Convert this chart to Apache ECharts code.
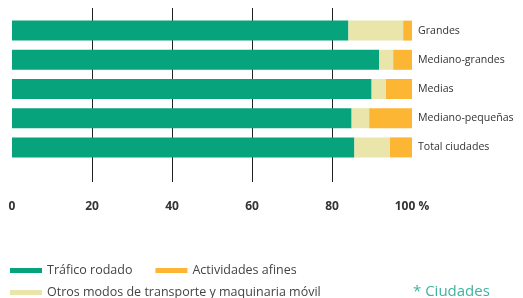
<!DOCTYPE html>
<html>
<head>
<meta charset="utf-8">
<script src="https://cdn.jsdelivr.net/npm/echarts@6/dist/echarts.min.js"></script>
<style>
  html, body { margin: 0; padding: 0; background: #fff; }
  #chart { width: 523px; height: 298px; }
</style>
</head>
<body>
<div id="chart"></div>
<script>
const categories = ['Grandes', 'Mediano-grandes', 'Medias', 'Mediano-pequeñas', 'Total ciudades']
const trafico = [84.1, 91.8, 89.9, 84.9, 85.6]
const otros = [13.7, 3.5, 3.6, 4.4, 8.9]
const afines = [2.2, 4.7, 6.5, 10.7, 5.5]
const seriesNames = ['Tráfico rodado', 'Otros modos de transporte y maquinaria móvil', 'Actividades afines']
const colors = ['#07a37c', '#e9e5ab', '#fcb633']

const font = 'Open Sans'
let chart = echarts.init(document.getElementById('chart'))

function bar (i, data) {
  return {
    name: seriesNames[i],
    type: 'bar',
    stack: 'total',
    xAxisIndex: 1,
    yAxisIndex: 1,
    barWidth: 20,
    itemStyle: { color: colors[i] },
    data: data
  }
}

let option = {
  animation: false,
  textStyle: { fontFamily: font },
  grid: [
    // gridlines + tick labels
    { left: 12, right: 111, top: 8, bottom: 116 },
    // bars
    { left: 12, right: 111, top: 16, bottom: 136 }
  ],
  xAxis: [
    {
      gridIndex: 0,
      type: 'value',
      min: 0,
      max: 100,
      interval: 20,
      axisLine: { show: false },
      axisTick: { show: false },
      splitLine: {
        show: true,
        showMinLine: false,
        showMaxLine: false,
        lineStyle: { color: '#222', width: 1 }
      },
      axisLabel: {
        margin: 19,
        color: '#333',
        fontSize: 12,
        fontWeight: 'bold',
        formatter: v => v === 100 ? '100 %' : String(v)
      }
    },
    {
      gridIndex: 1,
      type: 'value',
      min: 0,
      max: 100,
      show: false
    }
  ],
  yAxis: [
    { gridIndex: 0, type: 'value', show: false },
    {
      gridIndex: 1,
      type: 'category',
      inverse: true,
      position: 'right',
      data: categories,
      axisLine: { show: false },
      axisTick: { show: false },
      axisLabel: { margin: 6, color: '#333', fontSize: 10.6 }
    }
  ],
  legend: [
    {
      left: 10,
      top: 264,
      padding: 0,
      icon: 'rect',
      itemWidth: 32,
      itemHeight: 5,
      itemGap: 23,
      textStyle: { color: '#444', fontSize: 12.5 },
      data: [seriesNames[0], seriesNames[2]]
    },
    {
      left: 10,
      top: 286,
      padding: 0,
      icon: 'rect',
      itemWidth: 32,
      itemHeight: 5,
      textStyle: { color: '#444', fontSize: 12.5 },
      data: [seriesNames[1]]
    }
  ],
  graphic: [
    {
      type: 'text',
      left: 413,
      top: 284,
      style: { text: '* Ciudades', fill: '#3fb3a0', fontSize: 15, fontFamily: font }
    }
  ],
  series: [
    bar(0, trafico),
    bar(1, otros),
    bar(2, afines)
  ]
}
chart.setOption(option)
</script>
</body>
</html>
